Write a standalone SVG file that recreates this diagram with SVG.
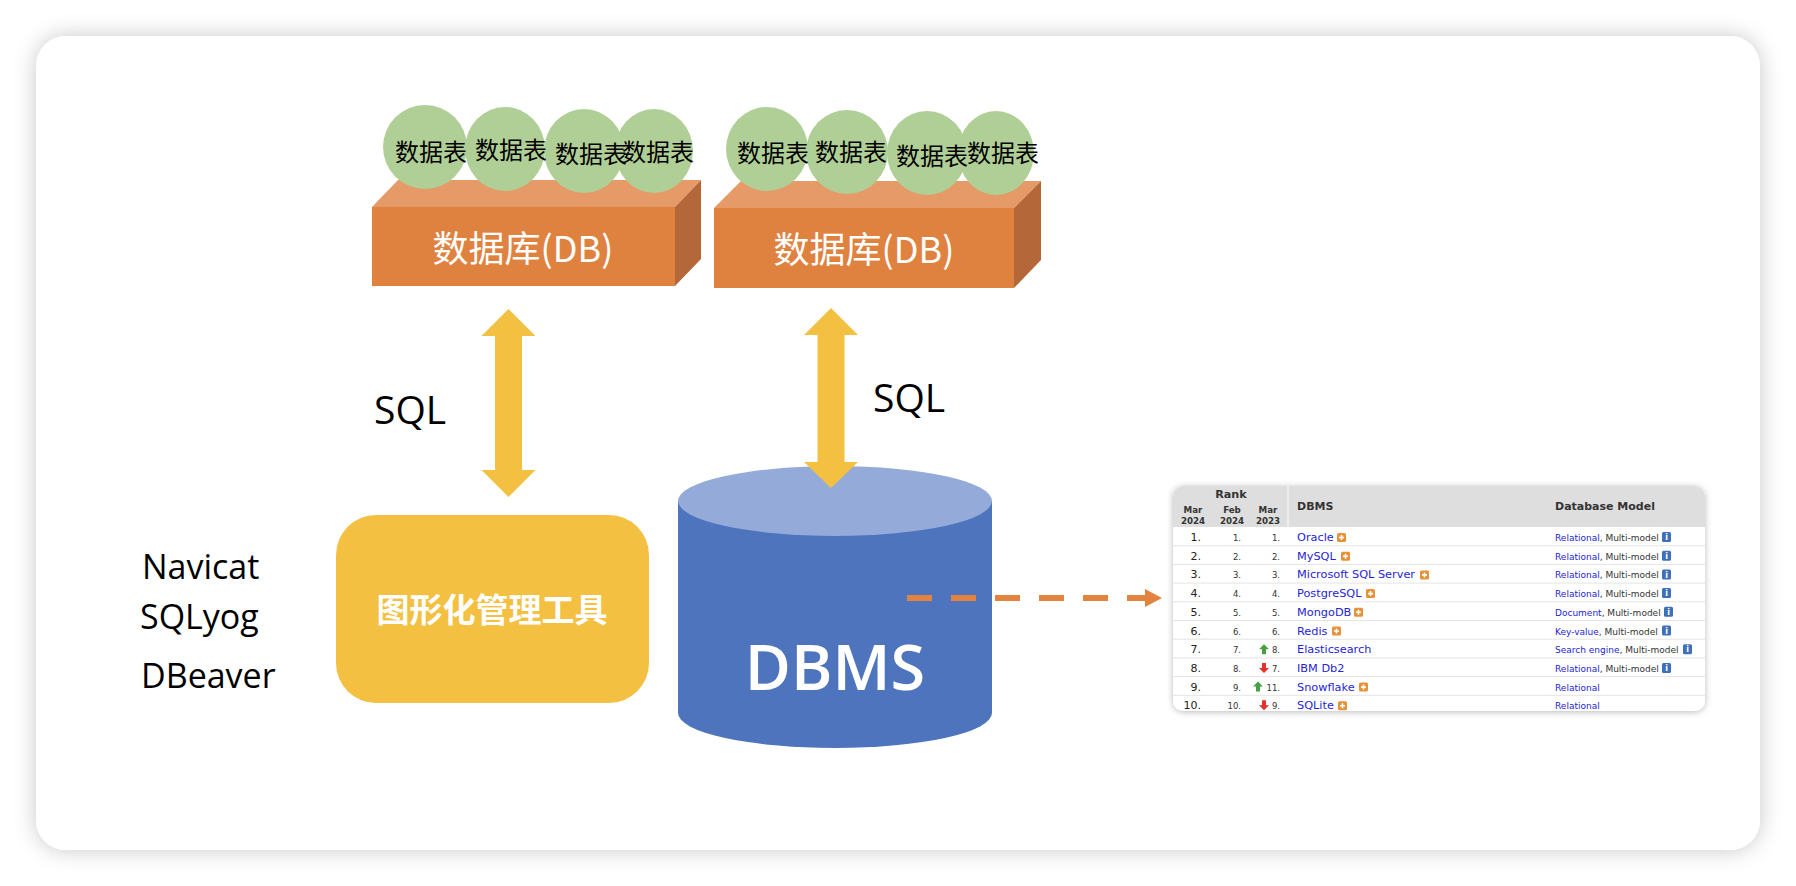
<svg xmlns="http://www.w3.org/2000/svg" width="1796" height="886" viewBox="0 0 1796 886">
<style>
.cjk{font-family:"Noto Sans CJK SC","Noto Sans CJK JP",sans-serif}
.lat{font-family:"Open Sans","Noto Sans",sans-serif}
.tbl{font-family:"DejaVu Sans",Verdana,sans-serif}
.front{fill:#E0823F}
.topf{fill:#E59A67}
.side{fill:#B4683A}
.tab{fill:#B0CF96}
.tabtxt{font-size:24px;fill:#000;text-anchor:middle}
.dbtxt{font-size:36px;fill:#fff;text-anchor:middle}
.gold{fill:#F4C042}
.th{font-weight:bold;fill:#333}
.n1{font-size:11px;fill:#222;text-anchor:end}
.n2{font-size:8.5px;fill:#333;text-anchor:end}
.nm{font-size:11.3px;fill:#2424D6}
.md{font-size:9px;fill:#333}
.lk{fill:#2424D6}
.sep{stroke:#E4E4E4;stroke-width:1}
</style>
<defs>
<filter id="cardShadow" x="-5%" y="-8%" width="110%" height="116%">
<feDropShadow dx="0" dy="0" stdDeviation="11" flood-color="#000" flood-opacity="0.22"/>
</filter>
<filter id="tblShadow" x="-5%" y="-10%" width="110%" height="120%">
<feDropShadow dx="0" dy="1" stdDeviation="3" flood-color="#000" flood-opacity="0.28"/>
</filter>
<clipPath id="tblClip"><rect x="1173" y="486" width="532" height="225" rx="10"/></clipPath>
<marker id="dashHead" markerUnits="userSpaceOnUse" markerWidth="18" markerHeight="18" viewBox="0 0 18 18" refX="0" refY="9" orient="auto"><path d="M0,0 L17,9 L0,18 Z" fill="#E2843F"/></marker>
<g id="plus"><rect width="9" height="9" rx="1.5" fill="#E8903A"/><path d="M4.5,2 V7 M2,4.5 H7" stroke="#fff" stroke-width="1.6"/></g>
<g id="info"><rect width="9" height="10" rx="1.5" fill="#3E70B8"/><text x="4.5" y="8.3" font-family="DejaVu Sans,sans-serif" font-size="8" font-weight="bold" fill="#fff" text-anchor="middle">i</text></g>
<path id="up" d="M5,0 L10,5 L7,5 L7,10 L3,10 L3,5 L0,5 Z" fill="#45A243"/>
<path id="down" d="M5,10 L10,5 L7,5 L7,0 L3,0 L3,5 L0,5 Z" fill="#E5332A"/>
</defs>

<rect width="1796" height="886" fill="#fff"/>
<rect id="card" x="36" y="36" width="1724" height="814" rx="30" fill="#fff" filter="url(#cardShadow)"/>

<g id="db1">
<polygon class="topf" points="372,207 675,207 701,180 398,180"/>
<polygon class="side" points="675,207 701,180 701,259 675,286"/>
<rect class="front" x="372" y="207" width="303" height="79"/>
<text class="cjk dbtxt" x="523" y="262">数据库(DB)</text>
<g id="db1-tables">
<ellipse class="tab" cx="425" cy="147" rx="42" ry="42"/>
<ellipse class="tab" cx="505" cy="149" rx="40" ry="42"/>
<ellipse class="tab" cx="584" cy="151" rx="40" ry="42"/>
<ellipse class="tab" cx="654" cy="151" rx="39" ry="42"/>
<text class="cjk tabtxt" x="431" y="161">数据表</text>
<text class="cjk tabtxt" x="511" y="159">数据表</text>
<text class="cjk tabtxt" x="591" y="163">数据表</text>
<text class="cjk tabtxt" x="658" y="161">数据表</text>
</g>
</g>

<g id="db2">
<polygon class="topf" points="714,208 1014,208 1041,181 741,181"/>
<polygon class="side" points="1014,208 1041,181 1041,260 1014,288"/>
<rect class="front" x="714" y="208" width="300" height="80"/>
<text class="cjk dbtxt" x="864" y="263">数据库(DB)</text>
<g id="db2-tables">
<ellipse class="tab" cx="767" cy="149" rx="41" ry="42"/>
<ellipse class="tab" cx="847" cy="152" rx="41" ry="42"/>
<ellipse class="tab" cx="927" cy="153" rx="40" ry="42"/>
<ellipse class="tab" cx="996" cy="153" rx="38" ry="42"/>
<text class="cjk tabtxt" x="773" y="162">数据表</text>
<text class="cjk tabtxt" x="851" y="161">数据表</text>
<text class="cjk tabtxt" x="932" y="165">数据表</text>
<text class="cjk tabtxt" x="1003" y="162">数据表</text>
</g>
</g>

<g id="gui-tool">
<rect class="gold" x="336" y="515" width="313" height="188" rx="40"/>
<text class="cjk" x="492" y="622" font-size="33" font-weight="bold" fill="#fff" text-anchor="middle">图形化管理工具</text>
</g>

<g id="tool-names" class="lat" font-size="34" fill="#000">
<text x="142" y="579">Navicat</text>
<text x="140" y="629">SQLyog</text>
<text x="141" y="688">DBeaver</text>
</g>

<g id="dbms">
<path d="M678,501 L678,713 A157,35 0 0 0 992,713 L992,501 Z" fill="#4D74BD"/>
<ellipse cx="835" cy="501" rx="157" ry="35" fill="#94AAD8"/>
<text class="lat" x="835" y="690" font-size="63" font-weight="600" fill="#fff" text-anchor="middle">DBMS</text>
</g>

<g id="ranking-table" class="tbl">
<rect x="1173" y="486" width="532" height="225" rx="10" fill="#fff" filter="url(#tblShadow)"/>
<g clip-path="url(#tblClip)">
<rect x="1173" y="486" width="532" height="41" fill="#DEDEDE"/>
<line x1="1288" y1="486" x2="1288" y2="527" stroke="#F3F3F3" stroke-width="1.5"/>
<text class="th" x="1231" y="498" font-size="11.2" text-anchor="middle">Rank</text>
<g class="th" font-size="8.7" text-anchor="middle">
<text x="1193" y="513">Mar</text><text x="1193" y="524">2024</text>
<text x="1232" y="513">Feb</text><text x="1232" y="524">2024</text>
<text x="1268" y="513">Mar</text><text x="1268" y="524">2023</text>
</g>
<text class="th" x="1297" y="510" font-size="11">DBMS</text>
<text class="th" x="1555" y="510" font-size="11">Database Model</text>
<g>
<line class="sep" x1="1173" y1="545.7" x2="1705" y2="545.7"/>
<line class="sep" x1="1173" y1="564.4" x2="1705" y2="564.4"/>
<line class="sep" x1="1173" y1="583.1" x2="1705" y2="583.1"/>
<line class="sep" x1="1173" y1="601.8" x2="1705" y2="601.8"/>
<line class="sep" x1="1173" y1="620.5" x2="1705" y2="620.5"/>
<line class="sep" x1="1173" y1="639.2" x2="1705" y2="639.2"/>
<line class="sep" x1="1173" y1="657.9" x2="1705" y2="657.9"/>
<line class="sep" x1="1173" y1="676.6" x2="1705" y2="676.6"/>
<line class="sep" x1="1173" y1="695.3" x2="1705" y2="695.3"/>
</g>
<g transform="translate(0,527)">
<text class="n1" x="1201" y="14">1.</text><text class="n2" x="1241" y="14">1.</text><text class="n2" x="1280" y="14">1.</text>
<text class="nm" x="1297" y="14">Oracle</text><use href="#plus" x="1337" y="6"/>
<text class="md" x="1555" y="14"><tspan class="lk">Relational</tspan>, Multi-model</text><use href="#info" x="1662" y="5"/>
</g>
<g transform="translate(0,545.7)">
<text class="n1" x="1201" y="14">2.</text><text class="n2" x="1241" y="14">2.</text><text class="n2" x="1280" y="14">2.</text>
<text class="nm" x="1297" y="14">MySQL</text><use href="#plus" x="1341" y="6"/>
<text class="md" x="1555" y="14"><tspan class="lk">Relational</tspan>, Multi-model</text><use href="#info" x="1662" y="5"/>
</g>
<g transform="translate(0,564.4)">
<text class="n1" x="1201" y="14">3.</text><text class="n2" x="1241" y="14">3.</text><text class="n2" x="1280" y="14">3.</text>
<text class="nm" x="1297" y="14">Microsoft SQL Server</text><use href="#plus" x="1420" y="6"/>
<text class="md" x="1555" y="14"><tspan class="lk">Relational</tspan>, Multi-model</text><use href="#info" x="1662" y="5"/>
</g>
<g transform="translate(0,583.1)">
<text class="n1" x="1201" y="14">4.</text><text class="n2" x="1241" y="14">4.</text><text class="n2" x="1280" y="14">4.</text>
<text class="nm" x="1297" y="14">PostgreSQL</text><use href="#plus" x="1366" y="6"/>
<text class="md" x="1555" y="14"><tspan class="lk">Relational</tspan>, Multi-model</text><use href="#info" x="1662" y="5"/>
</g>
<g transform="translate(0,601.8)">
<text class="n1" x="1201" y="14">5.</text><text class="n2" x="1241" y="14">5.</text><text class="n2" x="1280" y="14">5.</text>
<text class="nm" x="1297" y="14">MongoDB</text><use href="#plus" x="1354" y="6"/>
<text class="md" x="1555" y="14"><tspan class="lk">Document</tspan>, Multi-model</text><use href="#info" x="1664" y="5"/>
</g>
<g transform="translate(0,620.5)">
<text class="n1" x="1201" y="14">6.</text><text class="n2" x="1241" y="14">6.</text><text class="n2" x="1280" y="14">6.</text>
<text class="nm" x="1297" y="14">Redis</text><use href="#plus" x="1332" y="6"/>
<text class="md" x="1555" y="14"><tspan class="lk">Key-value</tspan>, Multi-model</text><use href="#info" x="1662" y="5"/>
</g>
<g transform="translate(0,639.2)">
<text class="n1" x="1201" y="14">7.</text><text class="n2" x="1241" y="14">7.</text><use href="#up" x="1259" y="5"/><text class="n2" x="1280" y="14">8.</text>
<text class="nm" x="1297" y="14">Elasticsearch</text>
<text class="md" x="1555" y="14"><tspan class="lk">Search engine</tspan>, Multi-model</text><use href="#info" x="1683" y="5"/>
</g>
<g transform="translate(0,657.9)">
<text class="n1" x="1201" y="14">8.</text><text class="n2" x="1241" y="14">8.</text><use href="#down" x="1259" y="5"/><text class="n2" x="1280" y="14">7.</text>
<text class="nm" x="1297" y="14">IBM Db2</text>
<text class="md" x="1555" y="14"><tspan class="lk">Relational</tspan>, Multi-model</text><use href="#info" x="1662" y="5"/>
</g>
<g transform="translate(0,676.6)">
<text class="n1" x="1201" y="14">9.</text><text class="n2" x="1241" y="14">9.</text><use href="#up" x="1253" y="5"/><text class="n2" x="1280" y="14">11.</text>
<text class="nm" x="1297" y="14">Snowflake</text><use href="#plus" x="1359" y="6"/>
<text class="md lk" x="1555" y="14">Relational</text>
</g>
<g transform="translate(0,695.3)">
<text class="n1" x="1201" y="14">10.</text><text class="n2" x="1241" y="14">10.</text><use href="#down" x="1259" y="5"/><text class="n2" x="1280" y="14">9.</text>
<text class="nm" x="1297" y="14">SQLite</text><use href="#plus" x="1338" y="6"/>
<text class="md lk" x="1555" y="14">Relational</text>
</g>
</g>
</g>

<g id="connectors">
<polygon class="gold" points="508.5,309 535.5,336 522,336 522,470 535.5,470 508.5,497 481.5,470 495,470 495,336 481.5,336"/>
<text class="lat" x="374" y="424" font-size="39" fill="#000">SQL</text>
<polygon class="gold" points="831,308 858,335 844.5,335 844.5,462 858,462 831,488 804,462 817.5,462 817.5,335 804,335"/>
<text class="lat" x="873" y="412" font-size="39" fill="#000">SQL</text>
<path d="M907,598 H1145" stroke="#E2843F" stroke-width="6" stroke-dasharray="25 19" fill="none" marker-end="url(#dashHead)"/>
</g>
</svg>
